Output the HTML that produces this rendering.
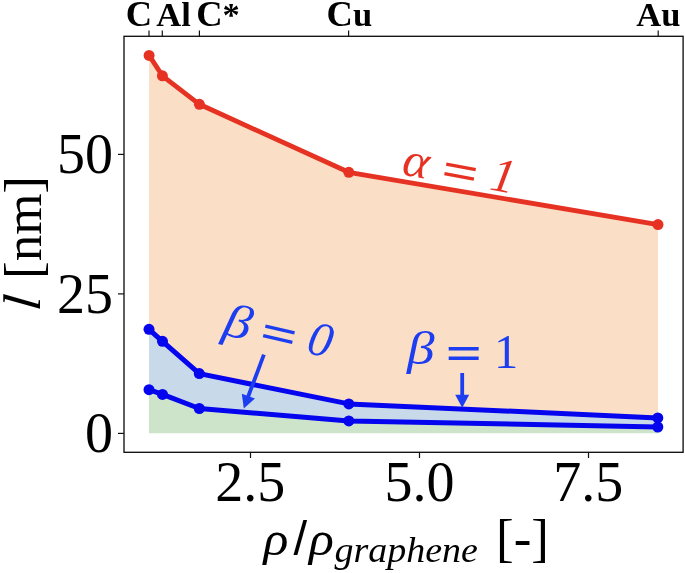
<!DOCTYPE html>
<html lang="en">
<head>
<meta charset="utf-8">
<title>l vs rho/rho_graphene</title>
<style>
html,body{margin:0;padding:0;background:#ffffff;}
body{width:685px;height:573px;overflow:hidden;}
svg{display:block;}
text{font-family:"Liberation Serif",serif;}
.tick{font-size:56px;fill:#000;}
.top{font-size:34.5px;font-weight:bold;fill:#000;}
.lab{font-size:53px;fill:#000;}
.ann{font-size:48.5px;}
.it{font-style:italic;}
</style>
</head>
<body>
<svg width="685" height="573" viewBox="0 0 685 573">
<rect x="0" y="0" width="685" height="573" fill="#ffffff"/>

<!-- fills -->
<polygon fill="#FADEC5" points="149.1,55.4 162.4,75.8 199.4,104.3 348.8,172.3 658,224.6 658,417.9 348.8,403.9 199.3,373.6 162.5,341.3 149,329.3"/>
<polygon fill="#C8DAE9" points="149,329.3 162.5,341.3 199.3,373.6 348.8,403.9 658,417.9 658,427 348.8,420.9 199.3,408.5 162.5,394.4 149,389.7"/>
<polygon fill="#CDE4CB" points="149,389.7 162.5,394.4 199.3,408.5 348.8,420.9 658,427 658,433.2 149,433.2"/>

<!-- red line -->
<g stroke="#E63223" fill="#E63223">
<polyline fill="none" stroke-width="4.8" stroke-linejoin="round" stroke-linecap="butt" points="149.1,55.4 162.4,75.8 199.4,104.3 348.8,172.3 658,224.6"/>
<g stroke="none">
<circle cx="149.1" cy="55.4" r="5.5"/><circle cx="162.4" cy="75.8" r="5.5"/><circle cx="199.4" cy="104.3" r="5.5"/><circle cx="348.8" cy="172.3" r="5.5"/><circle cx="658" cy="224.6" r="5.5"/>
</g>
</g>

<!-- blue lines -->
<g stroke="#0505EE" fill="#0505EE">
<polyline fill="none" stroke-width="5" stroke-linejoin="round" points="149,329.3 162.5,341.3 199.3,373.6 348.8,403.9 657.8,417.9"/>
<polyline fill="none" stroke-width="5" stroke-linejoin="round" points="149,389.7 162.5,394.4 199.3,408.5 348.8,420.9 657.8,427"/>
<g stroke="none">
<circle cx="149" cy="329.3" r="5.5"/><circle cx="162.5" cy="341.3" r="5.5"/><circle cx="199.3" cy="373.6" r="5.5"/><circle cx="348.8" cy="403.9" r="5.5"/><circle cx="657.8" cy="417.9" r="5.5"/>
<circle cx="149" cy="389.7" r="5.5"/><circle cx="162.5" cy="394.4" r="5.5"/><circle cx="199.3" cy="408.5" r="5.5"/><circle cx="348.8" cy="420.9" r="5.5"/><circle cx="657.8" cy="427" r="5.5"/>
</g>
</g>

<!-- axes frame -->
<rect x="124" y="36.3" width="559.1" height="416" fill="none" stroke="#111" stroke-width="1.35"/>

<!-- ticks -->
<g stroke="#111" stroke-width="1.2">
<line x1="118" x2="124" y1="154.4" y2="154.4"/>
<line x1="118" x2="124" y1="293.9" y2="293.9"/>
<line x1="118" x2="124" y1="433.4" y2="433.4"/>
<line y1="452.3" y2="458" x1="250.5" x2="250.5"/>
<line y1="452.3" y2="458" x1="419.5" x2="419.5"/>
<line y1="452.3" y2="458" x1="588.5" x2="588.5"/>
<line y1="30.5" y2="36.3" x1="149" x2="149"/>
<line y1="30.5" y2="36.3" x1="162.3" x2="162.3"/>
<line y1="30.5" y2="36.3" x1="199.4" x2="199.4"/>
<line y1="30.5" y2="36.3" x1="348.6" x2="348.6"/>
<line y1="30.5" y2="36.3" x1="658.2" x2="658.2"/>
</g>

<!-- y tick labels -->
<text class="tick" x="113.1" y="173.2" text-anchor="end">50</text>
<text class="tick" x="113.1" y="312.8" text-anchor="end">25</text>
<text class="tick" x="113.1" y="452.2" text-anchor="end">0</text>

<!-- x tick labels -->
<text class="tick" x="250.3" y="501" text-anchor="middle">2.5</text>
<text class="tick" x="419.6" y="501" text-anchor="middle">5.0</text>
<text class="tick" x="588.2" y="501" text-anchor="middle">7.5</text>

<!-- top labels -->
<text class="top" x="139" y="25.6" text-anchor="middle"><tspan font-size="36.5">C</tspan></text>
<text class="top" x="173.6" y="25.6" text-anchor="middle">Al</text>
<text class="top" x="218" y="25.6" text-anchor="middle"><tspan font-size="36.5">C</tspan>*</text>
<text class="top" x="349.3" y="25.6" text-anchor="middle"><tspan font-size="36.5">C</tspan>u</text>
<text class="top" x="658.4" y="25.6" text-anchor="middle">Au</text>

<!-- y label -->
<text class="lab it" transform="translate(40.4,304.2) rotate(-90) skewX(-6)" text-anchor="middle">l</text>
<text class="lab" transform="translate(40.7,227.5) rotate(-90)" text-anchor="middle">[nm]</text>

<!-- x label -->
<text class="it" font-size="48" transform="translate(263.5,554.5) scale(1.08,1)">ρ</text>
<text style="font-family:'Liberation Sans',sans-serif" font-size="49" x="293.5" y="554.8">/</text>
<text class="it" font-size="48" transform="translate(309.1,554.5) scale(1.08,1)">ρ</text>
<text class="it" font-size="36" transform="translate(334.5,562.2) scale(1.055,1)">graphene</text>
<text class="lab" x="496" y="555.8">[-]</text>

<!-- annotations -->
<g fill="#E63223" class="ann" transform="translate(400.7,174.2) rotate(10.5)">
<text class="it" transform="scale(1.03,1)">α</text>
<text class="it" font-weight="bold" transform="translate(39.1,2.8) scale(1.33,1)">=</text>
<text class="it" x="89.1" y="-1.2">1</text>
</g>
<g fill="#1C3EF0" class="ann" transform="translate(221.8,334.5) rotate(13)">
<text class="it" font-size="47.5" transform="translate(-0.7,-0.1) scale(1.165,1)">β</text>
<text class="it" font-weight="bold" transform="translate(36.9,3) scale(1.33,1)">=</text>
<text class="it" x="85.3" y="-1.2">0</text>
</g>
<g fill="#1C3EF0" class="ann" transform="translate(406.9,368)">
<text class="it" font-size="47.5" transform="translate(0,-3.8) scale(1.165,1)">β</text>
<text font-weight="bold" transform="translate(38.7,1) scale(1.33,1)">=</text>
<text x="87.1" y="0">1</text>
</g>

<!-- arrows -->
<g stroke="#1C3EF0" fill="#1C3EF0">
<line x1="462.2" y1="373" x2="462.2" y2="396" stroke-width="3.8"/>
<polygon stroke="none" points="455.2,394.7 469.2,394.7 462.2,407.8"/>
<line x1="263.9" y1="354.7" x2="248" y2="397" stroke-width="3.8"/>
<polygon stroke="none" transform="translate(243.8,408.4) rotate(20.5)" points="-7,-13.1 7,-13.1 0,0"/>
</g>
</svg>
</body>
</html>
